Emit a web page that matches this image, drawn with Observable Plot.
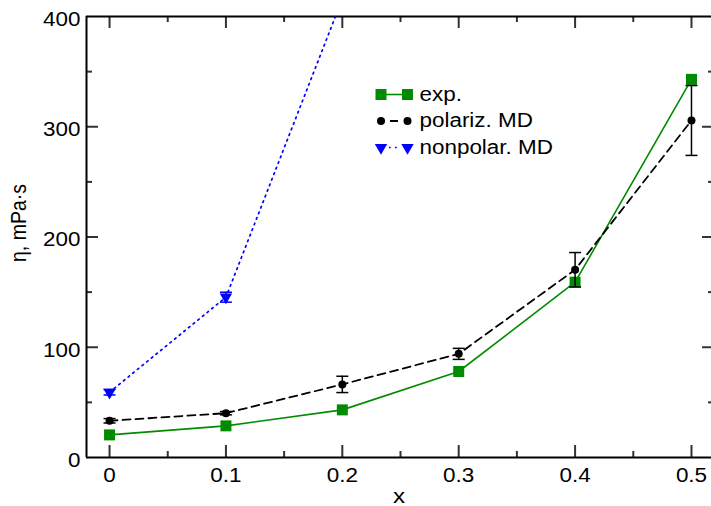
<!DOCTYPE html>
<html>
<head>
<meta charset="utf-8">
<script src="https://cdn.jsdelivr.net/npm/d3@7"></script>
<script src="https://cdn.jsdelivr.net/npm/@observablehq/plot@0.6"></script>
<style>
  html, body { margin: 0; padding: 0; background: white; }
  #root { width: 711px; height: 506px; }
</style>
</head>
<body>
<div id="root"></div>
<script>
// ---- data ----
const xVals   = [0, 0.1, 0.2, 0.3, 0.4, 0.5];
const expEta  = [20.5, 28.7, 43.2, 78, 159, 343];
const polEta  = [33.3, 40.2, 66.3, 94, 170.3, 305.7];
const polErr  = [2, 1.5, 7.4, 5, 15.6, 31.7];
const nonX    = [0, 0.1, 0.2];
const nonEta  = [59.2, 145.4, 416];
const nonErr  = [2.5, 4.5, 0];
const yTicks  = [0, 100, 200, 300, 400];
const yMinor  = [50, 150, 250, 350];
const xTicks  = [0, 0.1, 0.2, 0.3, 0.4, 0.5];
const xMinor  = [0.05, 0.15, 0.25, 0.35, 0.45];
const legendLabels = ["exp.", "polariz. MD", "nonpolar. MD"];

// ---- tables ----
const expData = xVals.map((x, i) => ({x, y: expEta[i]}));
const polData = xVals.map((x, i) => ({x, y: polEta[i], lo: polEta[i] - polErr[i], hi: polEta[i] + polErr[i]}));
const nonData = nonX.map((x, i) => ({x, y: nonEta[i], lo: nonEta[i] - nonErr[i], hi: nonEta[i] + nonErr[i], e: nonErr[i]}));

// ---- layout ----
const W = 711, H = 506, mL = 86, mR = 0, mT = 16, mB = 49;
const plotW = W - mL - mR, plotH = H - mT - mB;
const xDom = [-0.0198, 0.5172];
const GREEN = "#008b00", BLUE = "#0000ff";
const FS = 19.5;

const seg = (w) => ({draw(ctx) { ctx.moveTo(-w, 0); ctx.lineTo(w, 0); }});
const cap = seg(6);

// legend layout (pixel offsets from the frame's top-left)
const legM1 = 380.5 - mL, legM2 = 407 - mL, legMid = (legM1 + legM2) / 2, legHalf = (legM2 - legM1) / 2;
const legTx = 419 - mL;
const legY = [94 - mT, 120.5 - mT, 147 - mT];

const tickColor = "#333";

const chart = Plot.plot({
  width: W, height: H,
  marginLeft: mL, marginRight: mR, marginTop: mT, marginBottom: mB,
  style: {fontFamily: "'Liberation Sans', Arial, sans-serif", fontSize: FS + "px", background: "white", color: "black"},
  x: {domain: xDom},
  y: {domain: [0, 400]},
  marks: [
    // ticks: left (major/minor)
    Plot.tickY(yTicks.slice(1, -1), {y: d => d, insetRight: plotW - 12, stroke: tickColor, strokeWidth: 2}),
    Plot.tickY(yMinor, {y: d => d, insetRight: plotW - 6, stroke: tickColor, strokeWidth: 2}),
    // right ticks (frame sits just beyond the window)
    Plot.tickY(yTicks.slice(1, -1), {y: d => d, insetLeft: plotW - 9, stroke: tickColor, strokeWidth: 2}),
    Plot.tickY(yMinor, {y: d => d, insetLeft: plotW - 3, stroke: tickColor, strokeWidth: 2}),
    // bottom ticks
    Plot.tickX(xTicks, {x: d => d, insetTop: plotH - 12, stroke: tickColor, strokeWidth: 2}),
    Plot.tickX(xMinor, {x: d => d, insetTop: plotH - 6, stroke: tickColor, strokeWidth: 2}),
    // top ticks
    Plot.tickX(xTicks, {x: d => d, insetBottom: plotH - 12, stroke: tickColor, strokeWidth: 2}),
    Plot.tickX(xMinor, {x: d => d, insetBottom: plotH - 6, stroke: tickColor, strokeWidth: 2}),
    // frame
    Plot.ruleY([0, 400], {stroke: "black", strokeWidth: 2}),
    Plot.ruleX([xDom[0]], {stroke: "black", strokeWidth: 2}),
    // tick labels
    Plot.axisY(yTicks, {tickSize: 0, tickPadding: 6, dy: 3, label: null, fontSize: FS, tickFormat: d => String(d)}),
    Plot.axisX(xTicks, {tickSize: 0, tickPadding: 11, label: null, fontSize: FS, tickFormat: d => d === 0 ? "0" : d.toFixed(1)}),
    // axis labels
    Plot.text(["x"], {frameAnchor: "bottom", dy: 38.5, textAnchor: "middle", lineAnchor: "middle", fontSize: 21}),
    Plot.text(["η, mPa·s"], {frameAnchor: "left", dx: -68, dy: -14, rotate: -90, textAnchor: "middle", lineAnchor: "middle", fontSize: FS}),

    // exp.
    Plot.line(expData, {x: "x", y: "y", stroke: GREEN, strokeWidth: 1.6}),
    Plot.dot(expData, {x: "x", y: "y", symbol: "square", r: 6.2, fill: GREEN}),

    // polariz. MD
    Plot.line(polData, {x: "x", y: "y", stroke: "black", strokeWidth: 1.8, strokeDasharray: "8,5"}),
    Plot.ruleX(polData, {x: "x", y1: "lo", y2: "hi", stroke: "black", strokeWidth: 1.5}),
    Plot.dot(polData, {x: "x", y: "lo", symbol: cap, fill: "none", stroke: "black", strokeWidth: 1.5}),
    Plot.dot(polData, {x: "x", y: "hi", symbol: cap, fill: "none", stroke: "black", strokeWidth: 1.5}),
    Plot.dot(polData, {x: "x", y: "y", r: 4, fill: "black"}),

    // nonpolar. MD
    Plot.line(nonData, {x: "x", y: "y", stroke: BLUE, strokeWidth: 1.7, strokeDasharray: "1.7,4.3", clip: true}),
    Plot.ruleX(nonData.filter(d => d.e > 0), {x: "x", y1: "lo", y2: "hi", stroke: BLUE, strokeWidth: 1.5, clip: true}),
    Plot.dot(nonData.filter(d => d.e > 0), {x: "x", y: "lo", symbol: cap, fill: "none", stroke: BLUE, strokeWidth: 1.5, clip: true}),
    Plot.dot(nonData.filter(d => d.e > 0), {x: "x", y: "hi", symbol: cap, fill: "none", stroke: BLUE, strokeWidth: 1.5, clip: true}),
    Plot.dot(nonData, {x: "x", y: "y", symbol: "triangle", r: 4.6, rotate: 180, fill: BLUE, clip: true}),

    // legend
    Plot.dot([0], {frameAnchor: "top-left", dx: legMid, dy: legY[0], symbol: seg(legHalf), fill: "none", stroke: GREEN, strokeWidth: 1.6}),
    Plot.dot([0], {frameAnchor: "top-left", dx: legM1, dy: legY[0], symbol: "square", r: 6.2, fill: GREEN}),
    Plot.dot([0], {frameAnchor: "top-left", dx: legM2, dy: legY[0], symbol: "square", r: 6.2, fill: GREEN}),
    Plot.dot([0], {frameAnchor: "top-left", dx: legMid, dy: legY[1], symbol: seg(legHalf), fill: "none", stroke: "black", strokeWidth: 1.8, strokeDasharray: "4,5,8,50"}),
    Plot.dot([0], {frameAnchor: "top-left", dx: legM1, dy: legY[1], r: 4, fill: "black"}),
    Plot.dot([0], {frameAnchor: "top-left", dx: legM2, dy: legY[1], r: 4, fill: "black"}),
    Plot.dot([0], {frameAnchor: "top-left", dx: legMid, dy: legY[2], symbol: seg(legHalf), fill: "none", stroke: BLUE, strokeWidth: 1.7, strokeDasharray: "0,8,1.7,4.3,1.7,50"}),
    Plot.dot([0], {frameAnchor: "top-left", dx: legM1, dy: legY[2], symbol: "triangle", r: 4.6, rotate: 180, fill: BLUE}),
    Plot.dot([0], {frameAnchor: "top-left", dx: legM2, dy: legY[2], symbol: "triangle", r: 4.6, rotate: 180, fill: BLUE}),
    ...legendLabels.map((t, i) => Plot.text([t], {frameAnchor: "top-left", dx: legTx, dy: legY[i], textAnchor: "start", lineAnchor: "middle", fontSize: FS}))
  ]
});

document.getElementById("root").append(chart);

// the reference's lettering is slightly wide; stretch it horizontally
chart.querySelectorAll("text").forEach(t => {
  if (t.textContent.startsWith("η")) {
    const tr = t.getAttribute("transform") || "";
    t.setAttribute("transform", (tr + " scale(1,1.15)").trim());
    return;
  }
  const len = t.getComputedTextLength();
  if (len > 0) {
    t.setAttribute("textLength", (len * 1.15).toFixed(1));
    t.setAttribute("lengthAdjust", "spacingAndGlyphs");
  }
});
</script>
</body>
</html>
